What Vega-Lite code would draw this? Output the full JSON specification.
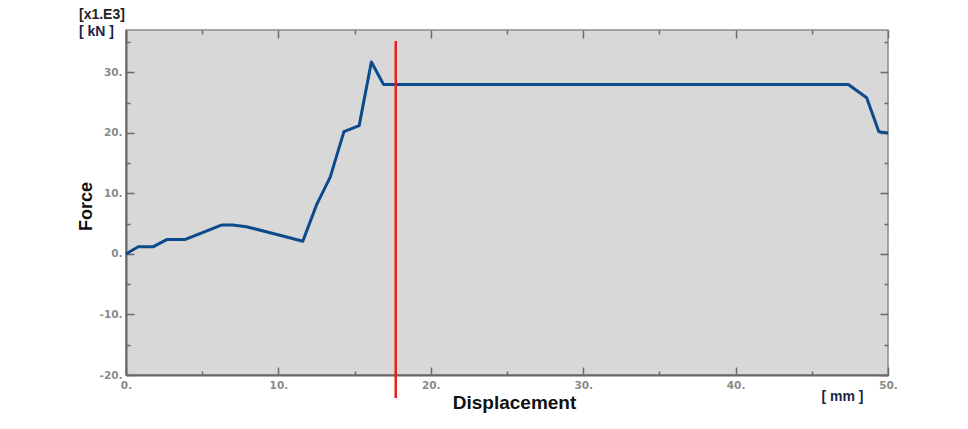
{
  "$schema": "https://vega.github.io/schema/vega-lite/v6.json",
  "width": 762,
  "height": 345,
  "padding": {"left": 77, "top": 8, "right": 5, "bottom": 5},
  "background": "white",
  "config": {
    "view": {"fill": "#d8d8d8", "stroke": "#8a8a8a", "strokeWidth": 1.5},
    "axis": {
      "grid": false,
      "labelFont": "DejaVu Sans",
      "labelFontSize": 10.5,
      "labelFontWeight": "bold",
      "labelColor": "#8a8a8a",
      "tickColor": "#6a6a6a",
      "tickWidth": 1.5,
      "titleFont": "Liberation Sans",
      "titleFontWeight": "bold",
      "titleColor": "#111111"
    }
  },
  "title": {
    "text": "[x1.E3]",
    "subtitle": "[ kN ]",
    "anchor": "start",
    "frame": "group",
    "align": "left",
    "dx": -47,
    "offset": -10,
    "font": "Liberation Sans",
    "fontSize": 14,
    "fontWeight": "bold",
    "color": "#222222",
    "subtitleFont": "Liberation Sans",
    "subtitleFontSize": 14,
    "subtitleFontWeight": "bold",
    "subtitleColor": "#1c2448",
    "subtitlePadding": 3
  },
  "datasets": {
    "curve": [
      {"disp": 0, "force": 0},
      {"disp": 0.8, "force": 1.2},
      {"disp": 1.8, "force": 1.2},
      {"disp": 2.7, "force": 2.4},
      {"disp": 3.9, "force": 2.4},
      {"disp": 6.3, "force": 4.8},
      {"disp": 7.0, "force": 4.8},
      {"disp": 7.9, "force": 4.5},
      {"disp": 10.1, "force": 3.1},
      {"disp": 11.6, "force": 2.1},
      {"disp": 12.5, "force": 8.1},
      {"disp": 13.4, "force": 12.7},
      {"disp": 14.3, "force": 20.2},
      {"disp": 15.3, "force": 21.2},
      {"disp": 16.1, "force": 31.7},
      {"disp": 16.9, "force": 28.0},
      {"disp": 47.4, "force": 28.0},
      {"disp": 48.6, "force": 25.8},
      {"disp": 49.4, "force": 20.2},
      {"disp": 50, "force": 20.0}
    ],
    "marker": [
      {"disp": 17.7, "low": -23.8, "high": 35.2}
    ]
  },
  "resolve": {"axis": {"x": "independent", "y": "independent"}},
  "layer": [
    {
      "data": {"name": "curve"},
      "mark": {"type": "line", "color": "#0b4a8b", "strokeWidth": 3, "strokeJoin": "round"},
      "encoding": {
        "x": {
          "field": "disp", "type": "quantitative",
          "scale": {"domain": [0, 50], "nice": false, "zero": false},
          "axis": {
            "orient": "bottom",
            "values": [0, 5, 10, 15, 20, 25, 30, 35, 40, 45, 50],
            "labelExpr": "datum.value % 10 === 0 ? datum.value + '.' : ''",
            "tickSize": {"condition": {"test": "datum.value % 10 === 0", "value": -8}, "value": -4},
            "labelPadding": 13,
            "labelFlush": false,
            "domainColor": "#666666",
            "domainWidth": 2,
            "title": "Displacement",
            "titleFontSize": 19,
            "titleX": 388,
            "titleY": 18,
            "titleBaseline": "top",
            "titleAlign": "center"
          }
        },
        "y": {
          "field": "force", "type": "quantitative",
          "scale": {"domain": [-20, 37], "nice": false, "zero": false},
          "axis": {
            "orient": "left",
            "values": [-20, -15, -10, -5, 0, 5, 10, 15, 20, 25, 30, 35],
            "labelExpr": "datum.value % 10 === 0 ? datum.value + '.' : ''",
            "tickSize": {"condition": {"test": "datum.value % 10 === 0", "value": -8}, "value": -4},
            "labelPadding": 12,
            "domainColor": "#666666",
            "domainWidth": 2,
            "title": "Force",
            "titleFontSize": 18,
            "titleX": -40,
            "titleY": 176,
            "titleAngle": -90,
            "titleBaseline": "middle",
            "titleAlign": "center"
          }
        }
      }
    },
    {
      "data": {"name": "marker"},
      "mark": {"type": "rule", "color": "#e8201c", "strokeWidth": 2.5},
      "encoding": {
        "x": {
          "field": "disp", "type": "quantitative",
          "axis": {
            "orient": "top",
            "values": [0, 5, 10, 15, 20, 25, 30, 35, 40, 45, 50],
            "labels": false,
            "domain": false,
            "tickSize": {"condition": {"test": "datum.value % 10 === 0", "value": -8}, "value": -4},
            "title": null
          }
        },
        "y": {
          "field": "low", "type": "quantitative",
          "axis": {
            "orient": "right",
            "values": [-20, -15, -10, -5, 0, 5, 10, 15, 20, 25, 30, 35],
            "labels": false,
            "domain": false,
            "tickSize": {"condition": {"test": "datum.value % 10 === 0", "value": -8}, "value": -4},
            "title": null
          }
        },
        "y2": {"field": "high"}
      }
    },
    {
      "data": {"name": "curve"},
      "mark": {"type": "point", "opacity": 0},
      "encoding": {
        "x": {
          "field": "disp", "type": "quantitative",
          "axis": {
            "orient": "bottom",
            "labels": false,
            "ticks": false,
            "domain": false,
            "title": "[ mm ]",
            "titleFontSize": 14,
            "titleColor": "#1c2448",
            "titleX": 716,
            "titleY": 14,
            "titleBaseline": "top",
            "titleAlign": "center"
          }
        },
        "y": {"field": "force", "type": "quantitative", "axis": null}
      }
    }
  ]
}
